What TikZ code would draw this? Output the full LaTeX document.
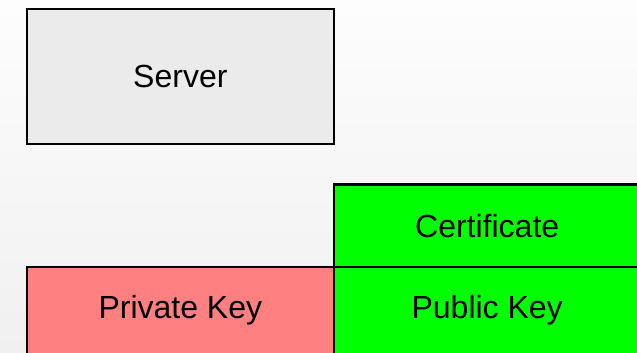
\documentclass[tikz,border=0pt]{standalone}
\usepackage{fontspec}
\setmainfont{Liberation Sans}
\definecolor{bgtop}{HTML}{FDFDFD}
\definecolor{bgbottom}{HTML}{F0F0F0}
\definecolor{servergray}{HTML}{EBEBEB}
\definecolor{keyred}{HTML}{FF8080}
\definecolor{certgreen}{HTML}{00FF00}
\begin{document}
\begin{tikzpicture}[x=1pt,y=-1pt,
  block/.style={draw=black, line width=2.3pt, rectangle, inner sep=0pt, outer sep=0pt,
    anchor=north west, font=\fontsize{32}{38}\selectfont},
  tallblock/.style={block, minimum height=100, text height=23pt, text depth=21.4pt}]
  \useasboundingbox (0,0) rectangle (637,353);
  \clip (0,0) rectangle (637,353);
  % soft vertical backdrop
  \shade[top color=bgtop, bottom color=bgbottom] (0,0) rectangle (637,353);
  % host box
  \node[block, fill=servergray, minimum width=306.7, minimum height=134.7] (server) at (27,9) {Server};
  % certificate stacked on the public key, both running past the right edge
  \node[block, fill=certgreen, minimum width=307, minimum height=82.7] (cert) at (333.7,184.5) {Certificate};
  \node[tallblock, fill=keyred, minimum width=306.7] (privkey) at (27,267.2) {Private Key};
  \node[tallblock, fill=certgreen, minimum width=307] (pubkey) at (333.7,267.2) {Public Key};
\end{tikzpicture}
\end{document}
